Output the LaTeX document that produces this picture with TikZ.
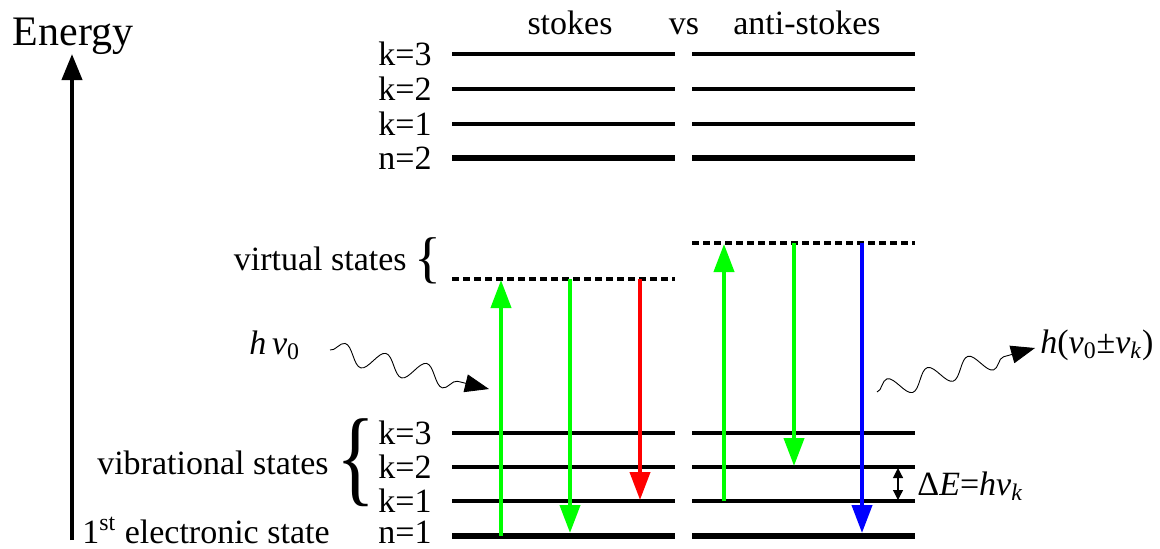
\documentclass[tikz,border=0pt]{standalone}
\usepackage{fontspec}
\setmainfont{LiberationSerif}[Extension=.ttf, UprightFont=*-Regular, ItalicFont=*-Italic, BoldFont=*-Bold, BoldItalicFont=*-BoldItalic]
\usetikzlibrary{arrows.meta,decorations.pathmorphing}
\definecolor{tgreen}{RGB}{0,255,0}
\definecolor{tred}{RGB}{255,0,0}
\definecolor{tblue}{RGB}{0,0,255}
\begin{document}
\begin{tikzpicture}[x=0.5pt,y=-0.5pt,
  lvl/.style={line width=1.8pt},
  lvlthick/.style={line width=3.4pt},
  virt/.style={line width=1.9pt, dash pattern=on 3.5pt off 2pt},
  trans/.style={line width=2pt, -{Triangle[length=14pt,width=10pt]}},
  lab/.style={font=\fontsize{17}{17}\selectfont, inner sep=0pt},
  klab/.style={lab, anchor=east},
  wave/.style={line width=0.45pt, decorate,
    decoration={snake, amplitude=5pt, segment length=21pt, post length=11pt},
    -{Triangle[length=12pt,width=9pt]}},
  mathlab/.style={font=\fontsize{17}{17}\selectfont\itshape, inner sep=0pt, anchor=base west}]
\useasboundingbox (0,0) rectangle (1160,548);

% energy axis
\coordinate (eb) at (72,540);
\coordinate (et) at (72,54);
\draw[line width=2pt, -{Triangle[length=13pt,width=10pt]}] (eb) -- (et);
\node[font=\fontsize{21}{21}\selectfont, inner sep=0pt, anchor=base] (energy) at (73,45) {Energy};

% headings
\node[lab, anchor=base] (stokes) at (570,34) {stokes};
\node[lab, anchor=base] (vs) at (684,34) {vs};
\node[lab, anchor=base] (anti) at (807,34) {anti-stokes};

% levels
\foreach \n/\y/\s in {uk3/54/lvl, uk2/89/lvl, uk1/124/lvl, un2/158/lvlthick,
                      lk3/433/lvl, lk2/467/lvl, lk1/501/lvl, ln1/536/lvlthick}{
  \coordinate (\n A) at (452,\y);
  \coordinate (\n B) at (675,\y);
  \coordinate (\n C) at (692,\y);
  \coordinate (\n D) at (915,\y);
  \draw[\s] (\n A) -- (\n B);
  \draw[\s] (\n C) -- (\n D);
}
% virtual levels
\coordinate (vlA) at (452,279);
\coordinate (vlB) at (675,279);
\coordinate (vrC) at (692,243);
\coordinate (vrD) at (915,243);
\draw[virt] (vlA) -- (vlB);
\draw[virt] (vrC) -- (vrD);

% level labels
\node[klab] (t1) at (432,54) {k=3};
\node[klab] (t2) at (432,89) {k=2};
\node[klab] (t3) at (432,124) {k=1};
\node[klab] (t4) at (432,158) {n=2};
\node[klab] (t5) at (432,433) {k=3};
\node[klab] (t6) at (432,467) {k=2};
\node[klab] (t7) at (432,501) {k=1};
\node[klab] (t8) at (432,532) {n=1};

\node[lab, anchor=base east] (virtual) at (407,270) {virtual states};
\node[inner sep=0pt] (br1) at (428,261) {\fontsize{28}{28}\selectfont\{};
\node[lab, anchor=base east] (vib) at (329,474) {vibrational states};
\node[inner sep=0pt] (br2) at (356,463) {\scalebox{1.45}[1.9]{\fontsize{28}{28}\selectfont\{}};
\node[lab, anchor=base west] (elec) at (82,543) {1\textsuperscript{st} electronic state};

% transitions
\coordinate (a1s) at (501,536); \coordinate (a1e) at (501,280);
\coordinate (a2s) at (570,279); \coordinate (a2e) at (570,533);
\coordinate (a3s) at (640,279); \coordinate (a3e) at (640,500);
\coordinate (a4s) at (724,501); \coordinate (a4e) at (724,244);
\coordinate (a5s) at (794,243); \coordinate (a5e) at (794,466);
\coordinate (a6s) at (862,243); \coordinate (a6e) at (862,533);
\draw[trans, tgreen] (a1s) -- (a1e);
\draw[trans, tgreen] (a2s) -- (a2e);
\draw[trans, tred] (a3s) -- (a3e);
\draw[trans, tgreen] (a4s) -- (a4e);
\draw[trans, tgreen] (a5s) -- (a5e);
\draw[trans, tblue] (a6s) -- (a6e);

% photons
\coordinate (w1s) at (330,350);
\coordinate (w1e) at (489,389);
\draw[wave] (w1s) -- (w1e);
\node[mathlab] (hnu0) at (249,354) {h\,ν\textsubscript{\upshape 0}};
\coordinate (w2s) at (877,392);
\coordinate (w2e) at (1035,348);
\draw[wave] (w2s) -- (w2e);
\node[mathlab] (hnu) at (1040,353) {h{\upshape(}ν\textsubscript{\upshape 0}{\upshape±}ν\textsubscript{k}{\upshape)}};

% delta E
\coordinate (dEt) at (898,468);
\coordinate (dEb) at (898,500);
\draw[line width=0.6pt, {Triangle[length=5pt,width=5pt]}-{Triangle[length=5pt,width=5pt]}] (dEt) -- (dEb);
\node[mathlab] (dE) at (917,495) {{\upshape Δ}E{\upshape=}hν\textsubscript{k}};
\end{tikzpicture}
\end{document}
